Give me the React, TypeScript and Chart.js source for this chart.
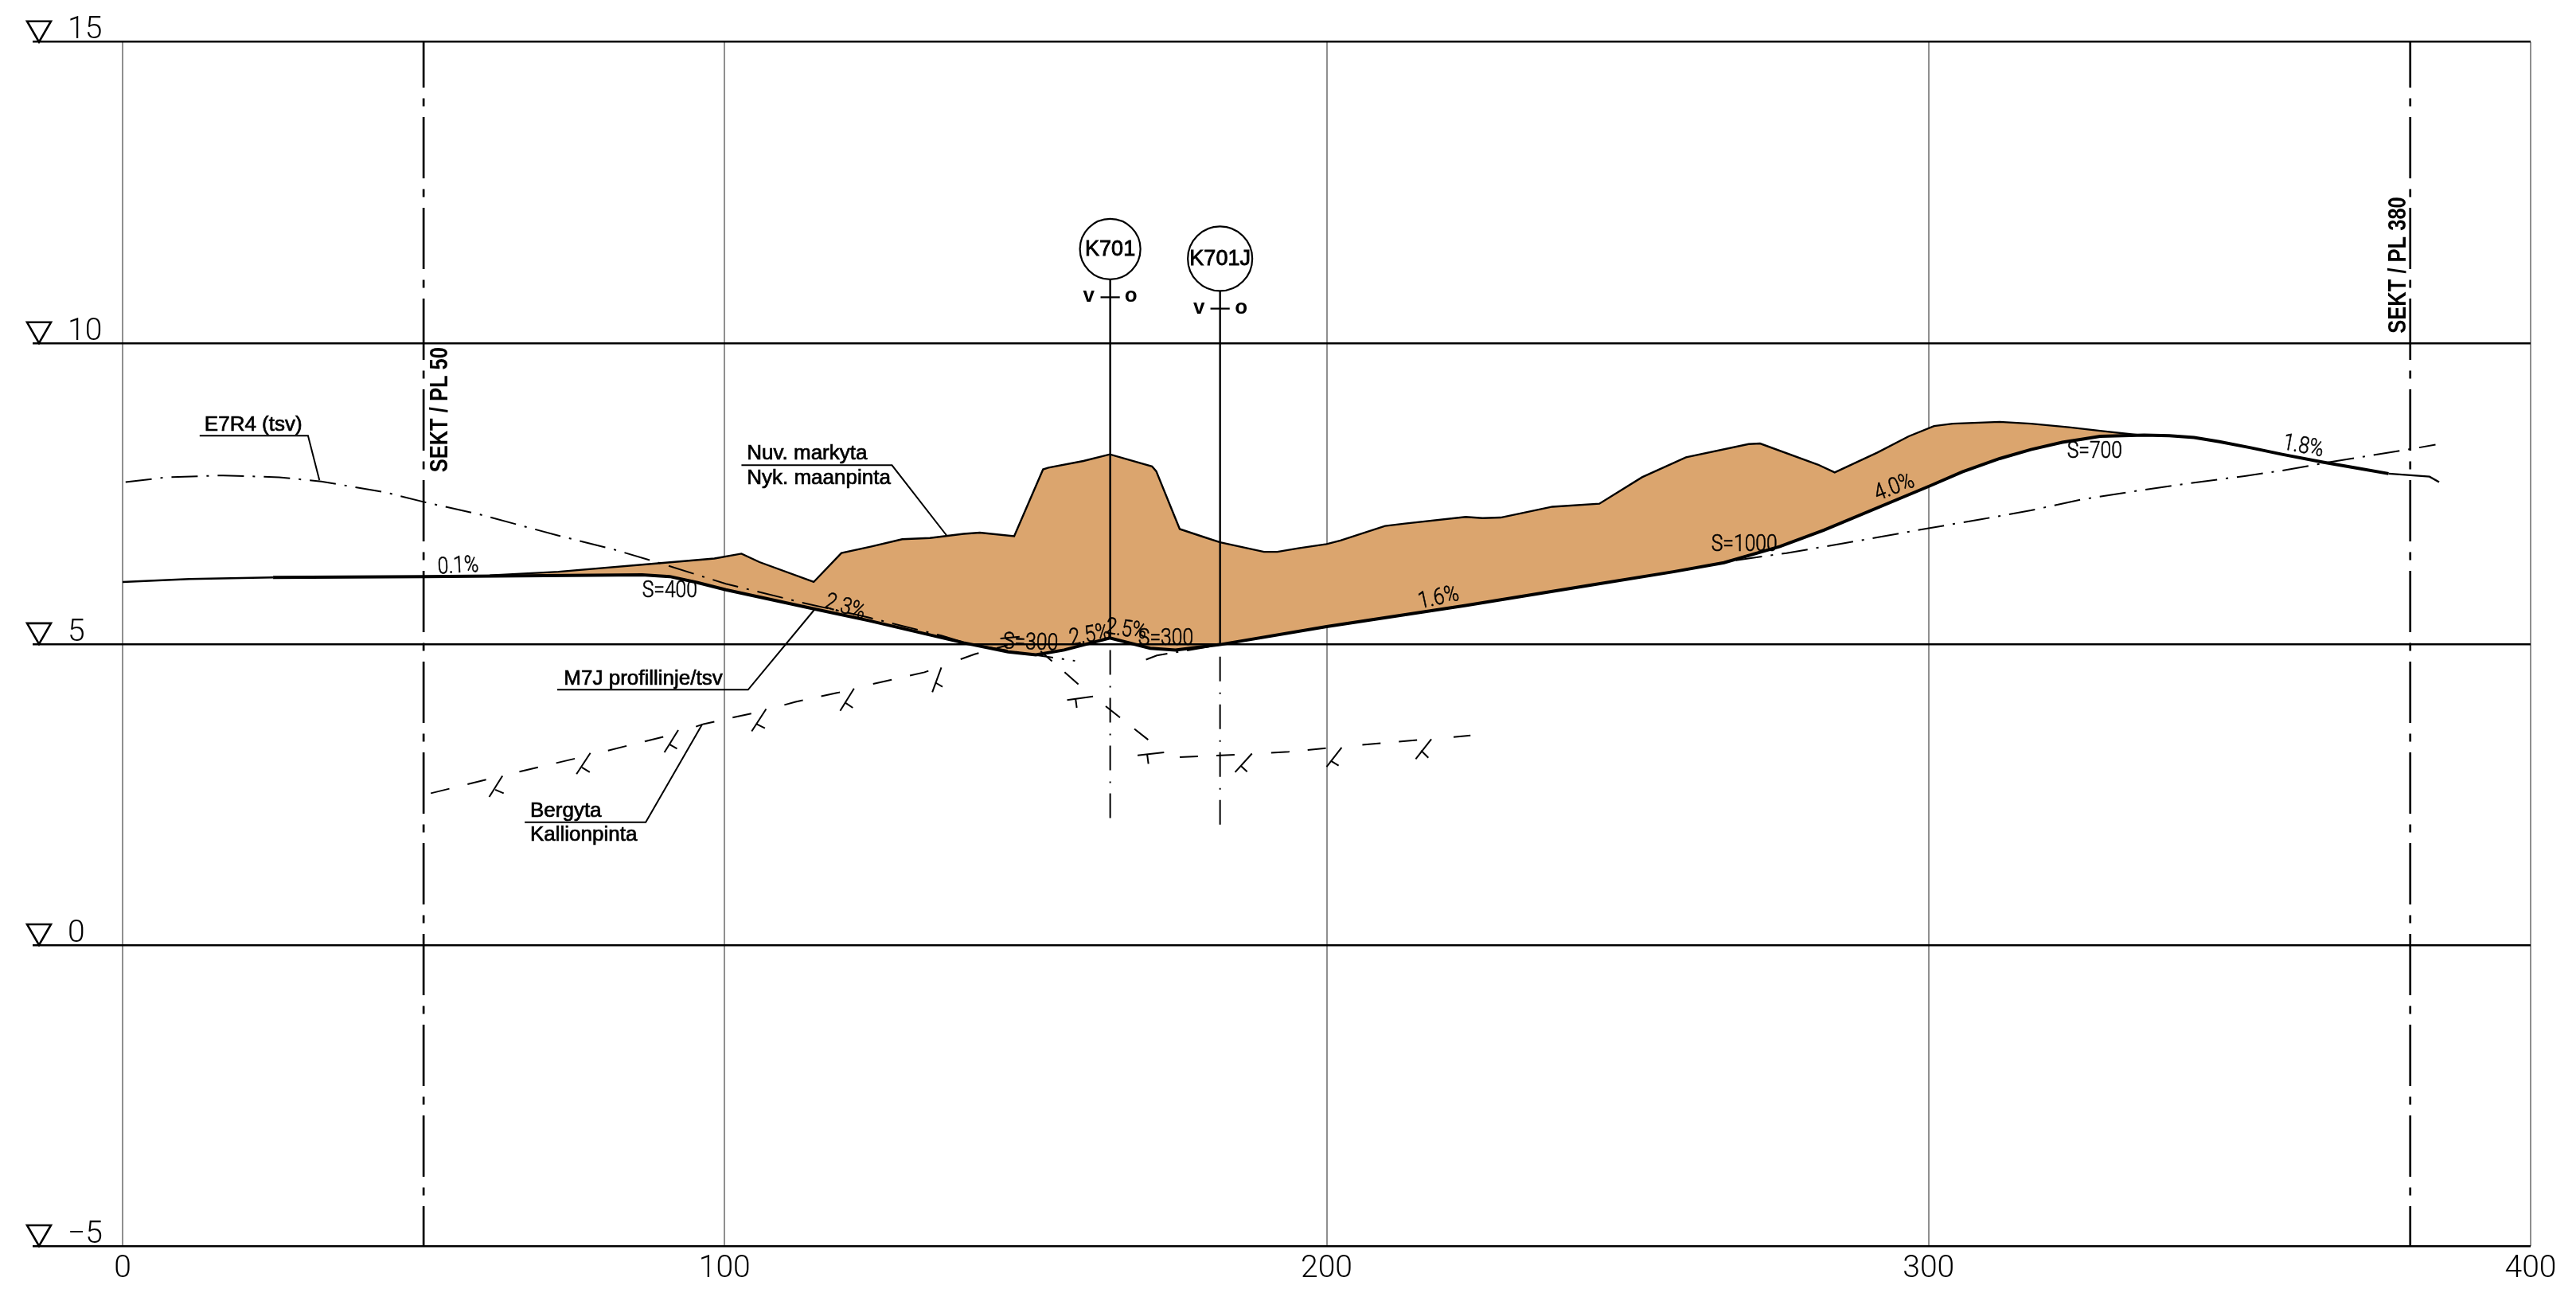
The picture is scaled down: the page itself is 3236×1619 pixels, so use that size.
import React, { useEffect, useRef } from "react";
import { Chart, registerables } from "chart.js";

Chart.register(...registerables);

// Profile series (x = chainage m, y = level m)
const groundX = [61, 72.4, 89, 98.3, 102.8, 105.8, 114.8, 119.4, 124.4, 129.5, 134.1, 139.7, 142.4, 148.1, 152.9, 153.8, 159.6, 164, 171, 171.7, 175.6, 179.5, 182.3, 189.6, 191.8, 195.3, 200, 202.3, 209.7, 213, 223.1, 225.9, 228.9, 237.5, 245.3, 252.4, 259.7, 270.1, 272, 281.6, 284.4, 291.5, 296.7, 300.9, 304, 311.8, 317, 323.3, 328.5, 335];
const groundY = [6.14, 6.2, 6.34, 6.42, 6.5, 6.36, 6.03, 6.51, 6.62, 6.74, 6.76, 6.83, 6.85, 6.79, 7.9, 7.93, 8.04, 8.15, 7.95, 7.87, 6.91, 6.78, 6.69, 6.53, 6.53, 6.59, 6.66, 6.72, 6.96, 7, 7.11, 7.09, 7.1, 7.28, 7.33, 7.77, 8.1, 8.32, 8.33, 7.98, 7.85, 8.18, 8.45, 8.62, 8.66, 8.69, 8.66, 8.6, 8.54, 8.47];

const roadX = [25, 50, 86.3, 90.9, 95.5, 100.2, 115, 123.9, 139.7, 147.1, 151.7, 156.4, 164, 170.7, 174.9, 182.3, 200, 223.1, 244, 257.6, 266, 275.3, 282.6, 300.3, 305.6, 311.8, 317, 322.2, 325.4, 328.5, 335.8, 340, 344.1, 348.3, 353.5, 358.7, 365.5, 371.2, 376.4];
const roadY = [6.105, 6.12, 6.15, 6.12, 6.02, 5.9, 5.58, 5.39, 5.02, 4.87, 4.82, 4.9, 5.1, 4.93, 4.9, 4.99, 5.29, 5.64, 5.98, 6.2, 6.35, 6.62, 6.89, 7.63, 7.86, 8.08, 8.23, 8.35, 8.4, 8.45, 8.47, 8.46, 8.43, 8.36, 8.26, 8.15, 8.02, 7.92, 7.83];
const roadStartX = [0, 11.1, 25];
const roadStartY = [6.03, 6.08, 6.105];
const roadEndX = [376.4, 383.2, 384.8];
const roadEndY = [7.83, 7.78, 7.69];

const e7WestX = [0.5, 7.4, 16.7, 26, 33, 43.6, 50, 59.4, 72.4, 81.6, 89, 100.2, 113.2, 123.9, 136, 140.6, 150.8, 158.2];
const e7WestY = [7.69, 7.77, 7.8, 7.77, 7.7, 7.52, 7.36, 7.15, 6.8, 6.57, 6.35, 6, 5.68, 5.44, 5.14, 5, 4.83, 4.72];
const e7MidX = [170, 171.8, 176, 182];
const e7MidY = [4.74, 4.81, 4.88, 4.98];
const e7EastX = [268, 276.4, 285.8, 292, 299.8, 308.7, 317, 325.4, 333.7, 344.1, 352.5, 358.7, 366, 379.6, 384.2];
const e7EastY = [6.39, 6.51, 6.67, 6.78, 6.92, 7.07, 7.22, 7.4, 7.53, 7.68, 7.79, 7.88, 8.01, 8.23, 8.31];

const rockWestX = [51.2, 63, 77, 91.5, 96.5, 106, 111.8, 118.8, 124.4, 133.2, 141.5, 147];
const rockWestY = [2.52, 2.81, 3.14, 3.5, 3.67, 3.88, 4.04, 4.19, 4.33, 4.53, 4.83, 4.98];
const rockDropX = [152.5, 159, 165.9, 170.6];
const rockDropY = [4.88, 4.31, 3.76, 3.39];
const rockEastX = [175.6, 184.7, 193.7, 205.5, 223.9];
const rockEastY = [3.12, 3.16, 3.21, 3.32, 3.48];

// Rock-surface hatch strokes: x1, y1, x2, y2
const rockTicks = [
  [63.1, 2.81, 60.9, 2.46], [61.9, 2.58, 63.3, 2.52],
  [77.7, 3.19, 75.4, 2.84], [76.3, 2.95, 77.6, 2.87],
  [92.3, 3.57, 90, 3.2], [90.9, 3.33, 92.1, 3.26],
  [106.9, 3.92, 104.5, 3.55], [105.3, 3.67, 106.7, 3.6],
  [121.5, 4.26, 119.2, 3.89], [120.1, 4.02, 121.3, 3.94],
  [136, 4.61, 134.5, 4.2], [135, 4.36, 136.2, 4.29],
  [145.8, 5.09, 149, 5.12],
  [156.9, 4.07, 161.2, 4.13], [158.3, 4.09, 158.5, 3.94],
  [168.6, 3.15, 173, 3.2], [170.2, 3.16, 170.4, 3.01],
  [187.6, 3.18, 184.8, 2.87], [185.8, 2.97, 186.8, 2.88],
  [202.5, 3.28, 200, 2.96], [200.7, 3.06, 202, 2.98],
  [217.4, 3.42, 214.8, 3.09], [215.7, 3.23, 216.9, 3.11],
];

// Callout leaders
const leaderE7X = [12.8, 30.8, 32.7];
const leaderE7Y = [8.46, 8.46, 7.72];
const leaderNuvX = [102.8, 127.8, 136.9];
const leaderNuvY = [7.97, 7.97, 6.8];
const leaderM7X = [72.2, 103.9, 115];
const leaderM7Y = [4.24, 4.24, 5.58];
const leaderRockX = [66.8, 86.9, 96.3];
const leaderRockY = [2.04, 2.04, 3.67];

// Sections and bridge markers
const sectionStations = [50, 380];
const bridgeStations = [164.05, 182.3];
const bridgeNames = ["K701", "K701J"];
const bridgeCircleY = [11.56, 11.4];
const bridgeStemTopY = [11.06, 10.88];
const bridgeStemBottomY = [5.1, 4.99];
const bridgeCenterTopY = [4.9, 4.79];
const bridgeCenterBottomY = [2.07, 1.97];
const bridgeCrossY = [10.76, 10.57];

const xTicks = [0, 100, 200, 300, 400];
const yTicks = [-5, 0, 5, 10, 15];

// text, x, y, rotation in degrees
const calloutLabels: [string, number, number, number][] = [
  ["E7R4 (tsv)", 13.6, 8.54, 0],
  ["Nuv. markyta", 103.7, 8.07, 0],
  ["Nyk. maanpinta", 103.7, 7.66, 0],
  ["M7J profillinje/tsv", 73.3, 4.32, 0],
  ["Bergyta", 67.7, 2.13, 0],
  ["Kallionpinta", 67.7, 1.73, 0],
];
const gradeLabels: [string, number, number, number][] = [
  ["0.1%", 52.4, 6.17, -3],
  ["S=400", 86.3, 5.78, 0],
  ["2.3%", 116.5, 5.61, 17],
  ["S=300", 146.2, 4.93, 2],
  ["2.5%", 157.5, 4.98, -10],
  ["2.5%", 163.2, 5.18, 8],
  ["S=300", 168.7, 4.98, 0],
  ["1.6%", 215.5, 5.59, -12],
  ["4.0%", 291.5, 7.38, -21],
  ["S=1000", 263.9, 6.54, 0],
  ["S=700", 323, 8.09, 0],
  ["1.8%", 358.7, 8.24, 10.6],
];
const sectionLabels: [string, number, number][] = [
  ["SEKT / PL 50", 54, 7.85],
  ["SEKT / PL 380", 379.2, 10.16],
];
const sideMarks: [string, number, number][] = [
  ["v", 160.5, 10.76],
  ["o", 167.5, 10.76],
  ["v", 178.8, 10.57],
  ["o", 185.8, 10.57],
];

const zip = (xs: number[], ys: number[]) => xs.map((x, i) => ({ x, y: ys[i] }));
const poly = (data: { x: number; y: number }[], borderWidth: number, extra: any = {}) => ({
  type: "line",
  data,
  borderColor: "#000",
  borderWidth,
  pointRadius: 0,
  fill: false,
  tension: 0,
  ...extra,
});

const cadPlugin = {
  id: "cadPlugin",
  afterDraw(chart: any) {
    const { ctx, scales } = chart;
    const sx = scales.x;
    const sy = scales.y;
    ctx.save();
    ctx.fillStyle = "#000";
    ctx.strokeStyle = "#000";

    // level triangles
    ctx.lineWidth = 2.6;
    ctx.lineJoin = "miter";
    for (const t of yTicks) {
      const py = sy.getPixelForValue(t);
      ctx.beginPath();
      ctx.moveTo(34, py - 26);
      ctx.lineTo(64, py - 26);
      ctx.lineTo(49, py);
      ctx.closePath();
      ctx.stroke();
    }

    ctx.textAlign = "left";
    ctx.textBaseline = "alphabetic";
    for (const [t, x, y, r] of calloutLabels) {
      ctx.save();
      ctx.translate(sx.getPixelForValue(x), sy.getPixelForValue(y));
      ctx.rotate((r * Math.PI) / 180);
      ctx.font = '26px "Liberation Sans"';
      ctx.fillText(t, 0, 0);
      ctx.lineWidth = 0.7;
      ctx.strokeText(t, 0, 0);
      ctx.restore();
    }
    for (const [t, x, y, r] of gradeLabels) {
      ctx.save();
      ctx.translate(sx.getPixelForValue(x), sy.getPixelForValue(y));
      ctx.rotate((r * Math.PI) / 180);
      ctx.scale(0.85, 1);
      ctx.font = "300 29px Roboto";
      ctx.fillText(t, 0, 0);
      ctx.lineWidth = 0.6;
      ctx.strokeText(t, 0, 0);
      ctx.restore();
    }

    for (const [t, x, y] of sectionLabels) {
      ctx.save();
      ctx.translate(sx.getPixelForValue(x), sy.getPixelForValue(y));
      ctx.rotate(-Math.PI / 2);
      ctx.scale(1, 1.2);
      ctx.font = 'bold 25.5px "Liberation Sans"';
      ctx.fillText(t, 0, 0);
      ctx.restore();
    }

    ctx.textAlign = "center";
    ctx.textBaseline = "middle";
    ctx.font = '27px "Liberation Sans"';
    bridgeNames.forEach((name, i) => {
      const px = sx.getPixelForValue(bridgeStations[i]);
      const py = sy.getPixelForValue(bridgeCircleY[i]);
      ctx.fillText(name, px, py + 1);
      ctx.lineWidth = 0.9;
      ctx.strokeText(name, px, py + 1);
    });
    ctx.font = 'bold 26px "Liberation Sans"';
    for (const [t, x, y] of sideMarks) {
      ctx.fillText(t, sx.getPixelForValue(x), sy.getPixelForValue(y) - 1);
    }
    ctx.restore();
  },
};

export default function App() {
  const ref = useRef<HTMLCanvasElement>(null);
  useEffect(() => {
    document.body.style.margin = "0";
    const datasets: any[] = [];

    // Chart.js paints the first dataset last, so the topmost marks come first.
    bridgeStations.forEach((x, i) => {
      datasets.push(
        poly([{ x, y: bridgeCircleY[i] }], 0, {
          type: "scatter",
          pointRadius: i === 0 ? 38 : 40.5,
          pointBackgroundColor: "#fff",
          pointBorderColor: "#000",
          pointBorderWidth: 2.2,
        }),
        poly([{ x, y: bridgeStemTopY[i] }, { x, y: bridgeStemBottomY[i] }], 2.4),
        poly([{ x, y: bridgeCenterTopY[i] }, { x, y: bridgeCenterBottomY[i] }], 2, {
          borderDash: [31, 14, 2, 13],
        }),
        poly([{ x: x - 1.6, y: bridgeCrossY[i] }, { x: x + 1.6, y: bridgeCrossY[i] }], 2.2)
      );
    });
    sectionStations.forEach((x) => {
      datasets.push(
        poly([{ x, y: 15 }, { x, y: -5 }], 2.7, {
          borderDash: [77, 13.5, 10, 13.5],
          borderDashOffset: 19.7,
        })
      );
    });
    for (const [xs, ys] of [
      [leaderE7X, leaderE7Y],
      [leaderNuvX, leaderNuvY],
      [leaderM7X, leaderM7Y],
      [leaderRockX, leaderRockY],
    ]) {
      datasets.push(poly(zip(xs, ys), 2));
    }
    for (const [x1, y1, x2, y2] of rockTicks) {
      datasets.push(poly([{ x: x1, y: y1 }, { x: x2, y: y2 }], 2));
    }
    datasets.push(
      poly(zip(rockWestX, rockWestY), 2, { borderDash: [24, 23.5, 24, 43] }),
      poly(zip(rockDropX, rockDropY), 2, { borderDash: [19, 21, 23, 44, 23, 23, 22, 200] }),
      poly(zip(rockEastX, rockEastY), 2, { borderDash: [23, 23, 23, 46] }),
      poly(zip(e7WestX, e7WestY), 2, { borderDash: [33, 11, 3, 11] }),
      poly(zip(e7MidX, e7MidY), 2, { borderDash: [28, 11, 3, 11] }),
      poly(zip(e7EastX, e7EastY), 2, { borderDash: [33, 11, 3, 11] }),
      poly(zip(roadStartX, roadStartY), 2.4),
      poly(zip(roadEndX, roadEndY), 2.4)
    );
    const roadIndex = datasets.length;
    datasets.push(poly(zip(roadX, roadY), 4));
    datasets.push(
      poly(zip(groundX, groundY), 2.4, {
        fill: { target: roadIndex, above: "#DBA56E", below: "#DBA56E" },
      })
    );

    const chart = new Chart(ref.current!, {
      type: "line",
      data: { datasets },
      plugins: [cadPlugin],
      options: {
        animation: false,
        responsive: false,
        devicePixelRatio: 1,
        parsing: false as any,
        normalized: true,
        layout: { padding: { left: 85, right: 57, top: 52.7, bottom: 0 } },
        plugins: { legend: { display: false }, tooltip: { enabled: false } },
        scales: {
          x: {
            type: "linear",
            min: xTicks[0],
            max: xTicks[xTicks.length - 1],
            afterFit: (s: any) => {
              s.height = 54;
            },
            afterBuildTicks: (s: any) => {
              s.ticks = xTicks.map((value) => ({ value }));
            },
            border: { display: false },
            grid: { color: "#8f8f8f", lineWidth: 2, drawTicks: false },
            ticks: {
              color: "#000",
              padding: 6,
              maxRotation: 0,
              font: { family: "Roboto", size: 39, weight: "300" },
            },
          },
          y: {
            type: "linear",
            min: yTicks[0],
            max: yTicks[yTicks.length - 1],
            afterFit: (s: any) => {
              s.width = 69;
            },
            afterBuildTicks: (s: any) => {
              s.ticks = yTicks.map((value) => ({ value }));
            },
            border: { display: false },
            grid: { color: "#000", lineWidth: 2.5, tickLength: 113, z: 1 },
            ticks: {
              color: "#000",
              crossAlign: "far",
              labelOffset: -14,
              callback: (v: any) => (Number(v) < 0 ? `\u2212${-Number(v)}` : `${v}`),
              font: { family: "Roboto", size: 39, weight: "300" },
            },
          },
        },
      } as any,
    } as any);
    return () => chart.destroy();
  }, []);

  return (
    <canvas
      ref={ref}
      width={3236}
      height={1619}
      style={{ display: "block", width: 3236, height: 1619 }}
    />
  );
}
